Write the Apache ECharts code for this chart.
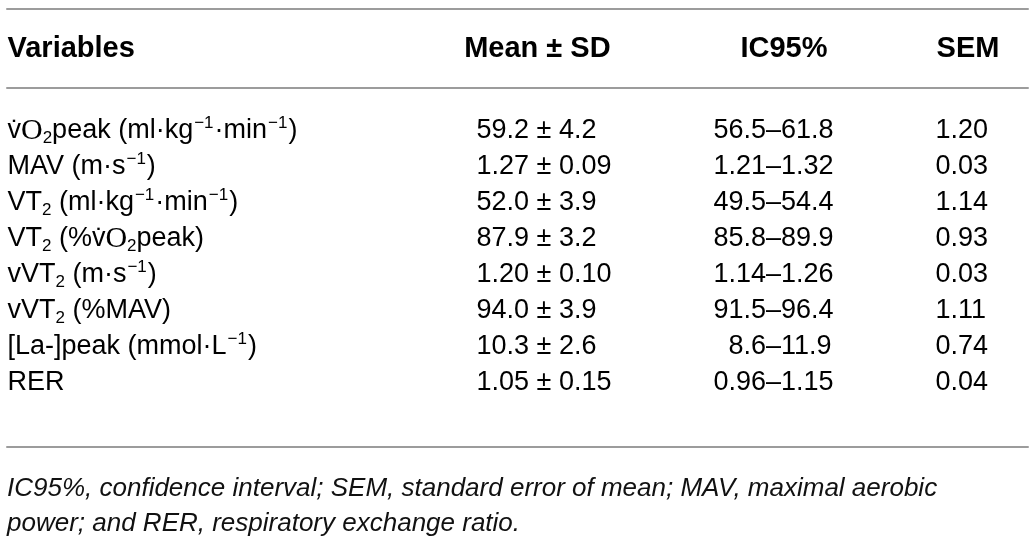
<!DOCTYPE html>
<html>
<head>
<meta charset="utf-8">
<script src="https://cdn.jsdelivr.net/npm/echarts@6/dist/echarts.min.js"></script>
<style>
html,body{margin:0;padding:0;background:#ffffff;}
#chart{width:1035px;height:539px;}
</style>
</head>
<body>
<div id="chart"></div>
<script>
// ---- table content ----
const headers = ['Variables', 'Mean ± SD', 'IC95%', 'SEM'];
const variables = [
  'v\u0307O₂peak (ml·kg⁻¹·min⁻¹)',
  'MAV (m·s⁻¹)',
  'VT₂ (ml·kg⁻¹·min⁻¹)',
  'VT₂ (%v\u0307O₂peak)',
  'vVT₂ (m·s⁻¹)',
  'vVT₂ (%MAV)',
  '[La-]peak (mmol·L⁻¹)',
  'RER'
];
const meanSD = ['59.2 ± 4.2', '1.27 ± 0.09', '52.0 ± 3.9', '87.9 ± 3.2', '1.20 ± 0.10', '94.0 ± 3.9', '10.3 ± 2.6', '1.05 ± 0.15'];
const ci95 = ['56.5–61.8', '1.21–1.32', '49.5–54.4', '85.8–89.9', '1.14–1.26', '91.5–96.4', '8.6–11.9', '0.96–1.15'];
const sem = ['1.20', '0.03', '1.14', '0.93', '0.03', '1.11', '0.74', '0.04'];
const footnote = 'IC95%, confidence interval; SEM, standard error of mean; MAV, maximal aerobic\npower; and RER, respiratory exchange ratio.';

// ---- layout / style ----
const FONT = '"Liberation Sans", Arial, Helvetica, sans-serif';
const TEXT = '#000000';
const RULE = '#9c9c9c';
const BODY_SIZE = 27;
const HEAD_SIZE = 29;
const layout = {
  headAnchor: [0, 0.519, 0.7605, 0.9407],
  headAlign: ['left', 'center', 'center', 'center'],
  colAnchor: [0, 0.4594, 0.6915, 0.9089]
};

const rowKeys = variables.map((v, i) => 'r' + i);

// measure text to align the confidence intervals on their dash
const mctx = document.createElement('canvas').getContext('2d');
mctx.font = BODY_SIZE + 'px ' + FONT;
const loParts = ci95.map(s => s.split('–')[0]);
const loMax = Math.max.apply(null, loParts.map(s => mctx.measureText(s).width));

function richVar(s) {
  return s
    .replace(/v\u0307O/g, '{dv|v\u0307}{so|O}')
    .replace(/₂/g, '{sub|2}')
    .replace(/⁻¹/g, '{sup|−1}');
}

const baseLabel = {
  show: true,
  position: 'right',
  distance: 0,
  align: 'left',
  verticalAlign: 'middle',
  color: TEXT,
  opacity: 1,
  textBorderWidth: 0,
  fontFamily: FONT,
  fontSize: BODY_SIZE,
  lineHeight: 32
};

function cellSeries(colIdx, values) {
  return {
    type: 'scatter',
    xAxisIndex: 2,
    yAxisIndex: 1,
    symbolSize: 1,
    itemStyle: { color: 'rgba(0,0,0,0)' },
    silent: true,
    data: values.map((v, i) => ({ value: [layout.colAnchor[colIdx], rowKeys[i]], text: v })),
    label: Object.assign({}, baseLabel, { formatter: p => p.data.text })
  };
}

const hiddenValueAxis = (gridIndex, position, showLine, offset) => ({
  type: 'value', gridIndex, position, min: 0, max: 1, offset: offset || 0,
  axisLine: { show: showLine, onZero: false, lineStyle: { color: RULE, width: 2 } },
  axisTick: { show: false }, axisLabel: { show: false }, splitLine: { show: false }
});

const option = {
  backgroundColor: '#ffffff',
  animation: false,
  title: {
    text: footnote,
    left: 7,
    top: 471,
    padding: 0,
    textStyle: {
      fontFamily: FONT, fontStyle: 'italic', fontWeight: 'normal',
      fontSize: 26, lineHeight: 35, color: '#111111'
    }
  },
  grid: [
    { left: 7, right: 7, top: 9, height: 79 },
    { left: 7, right: 7, top: 113, height: 288 }
  ],
  xAxis: [
    hiddenValueAxis(0, 'top', true),
    hiddenValueAxis(0, 'bottom', true),
    hiddenValueAxis(1, 'bottom', true, 46)
  ],
  yAxis: [
    { type: 'category', gridIndex: 0, data: ['head'], show: false },
    { type: 'category', gridIndex: 1, data: rowKeys, inverse: true, show: false }
  ],
  series: [
    {
      type: 'scatter', xAxisIndex: 0, yAxisIndex: 0, symbolSize: 1,
      itemStyle: { color: 'rgba(0,0,0,0)' }, silent: true,
      data: headers.map((h, i) => ({
        value: [layout.headAnchor[i], 'head'], text: h,
        label: { align: layout.headAlign[i] }
      })),
      label: Object.assign({}, baseLabel, {
        fontWeight: 'bold', fontSize: HEAD_SIZE, formatter: p => p.data.text
      })
    },
    {
      type: 'scatter', xAxisIndex: 2, yAxisIndex: 1, symbolSize: 1,
      itemStyle: { color: 'rgba(0,0,0,0)' }, silent: true,
      data: variables.map((v, i) => ({ value: [layout.colAnchor[0], rowKeys[i]], text: v })),
      label: Object.assign({}, baseLabel, {
        formatter: p => richVar(p.data.text),
        rich: {
          dv: { fontFamily: FONT, fontSize: BODY_SIZE, color: TEXT, lineHeight: 32 },
          so: { fontFamily: '"Liberation Serif", "Times New Roman", serif', fontSize: 30, color: TEXT, lineHeight: 32 },
          sub: { fontFamily: FONT, fontSize: 17, color: TEXT, lineHeight: 17, verticalAlign: 'bottom' },
          sup: { fontFamily: FONT, fontSize: 17, color: TEXT, lineHeight: 22, verticalAlign: 'top', padding: [0, 1, 0, 1] }
        }
      })
    },
    cellSeries(1, meanSD),
    {
      type: 'scatter', xAxisIndex: 2, yAxisIndex: 1, symbolSize: 1,
      itemStyle: { color: 'rgba(0,0,0,0)' }, silent: true,
      data: ci95.map((v, i) => ({
        value: [layout.colAnchor[2], rowKeys[i]], text: v,
        label: { padding: [0, 0, 0, Math.round(loMax - mctx.measureText(loParts[i]).width)] }
      })),
      label: Object.assign({}, baseLabel, { formatter: p => p.data.text })
    },
    cellSeries(3, sem)
  ]
};

const chart = echarts.init(document.getElementById('chart'), null, { renderer: 'canvas' });
chart.setOption(option);
</script>
</body>
</html>
